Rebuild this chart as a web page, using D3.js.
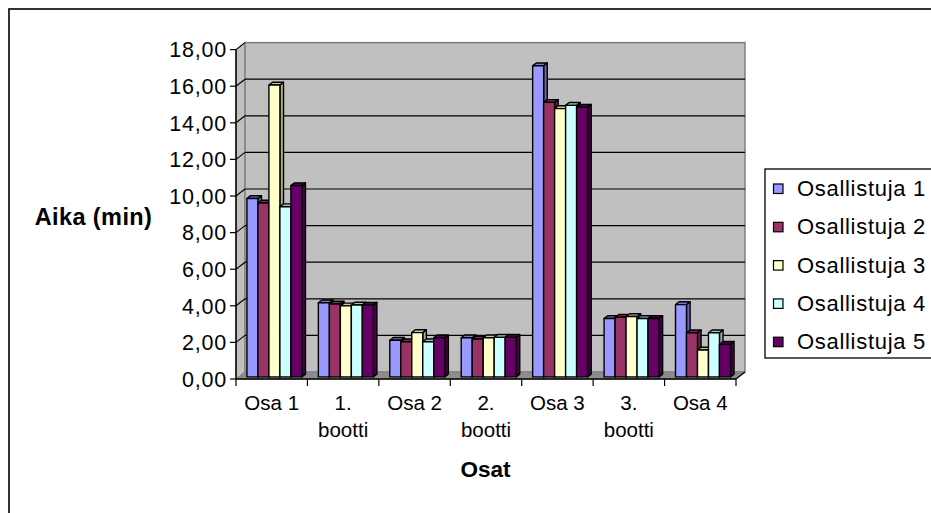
<!DOCTYPE html>
<html>
<head>
<meta charset="utf-8">
<script src="https://cdn.jsdelivr.net/npm/d3@7"></script>
<style>
  html, body { margin: 0; padding: 0; background: #fff; }
  svg { display: block; font-family: "Liberation Sans", Arial, sans-serif; }
</style>
</head>
<body>
<svg id="chart" width="931" height="513"></svg>
<script>
// Category labels (multi-line labels split on "\n")
const categories = ["Osa 1", "1.\nbootti", "Osa 2", "2.\nbootti", "Osa 3", "3.\nbootti", "Osa 4"];
const seriesNames = ["Osallistuja 1", "Osallistuja 2", "Osallistuja 3", "Osallistuja 4", "Osallistuja 5"];
const seriesColors = ["#9999FF", "#993366", "#FFFFCC", "#CCFFFF", "#660066"];

// Times in minutes, one array per participant
const osallistuja1 = [9.75, 4.05, 2.00, 2.14, 17.00, 3.19, 3.95];
const osallistuja2 = [9.50, 3.98, 1.92, 2.07, 15.00, 3.26, 2.41];
const osallistuja3 = [15.95, 3.88, 2.42, 2.14, 14.66, 3.30, 1.47];
const osallistuja4 = [9.30, 3.93, 1.92, 2.16, 14.84, 3.19, 2.41];
const osallistuja5 = [10.45, 3.92, 2.14, 2.16, 14.74, 3.19, 1.78];
const seriesValues = [osallistuja1, osallistuja2, osallistuja3, osallistuja4, osallistuja5];

const yTicks = [0, 2, 4, 6, 8, 10, 12, 14, 16, 18];
const yTitle = "Aika (min)";
const xTitle = "Osat";

const svg = d3.select("#chart");

// Outer chart frame
svg.append("rect")
  .attr("x", 9).attr("y", 9).attr("width", 940).attr("height", 520)
  .attr("fill", "#fff").attr("stroke", "#000").attr("stroke-width", 1.6);

// Plot geometry (oblique 3-D: back plane shifted by DX, DY)
const X0 = 236, X1 = 736;
const DX = 9, DY = -7;
const x = d3.scaleBand().domain(categories).range([X0, X1]).paddingInner(0).paddingOuter(0);
const xs = d3.scaleBand().domain(seriesNames).range([0, x.bandwidth()]).paddingInner(0).paddingOuter(0.75);
const y = d3.scaleLinear().domain([0, 18]).range([379, 49.6]);
const fmt = v => d3.format(".2f")(v).replace(".", ",");

const gray = "#C0C0C0";
const pts = a => a.map(p => p.join(",")).join(" ");

// Side (left) wall
svg.append("polygon")
  .attr("points", pts([[X0, y(0)], [X0, y(18)], [X0 + DX, y(18) + DY], [X0 + DX, y(0) + DY]]))
  .attr("fill", gray).attr("stroke", "#808080").attr("stroke-width", 1);

// Back wall
svg.append("rect")
  .attr("x", X0 + DX).attr("y", y(18) + DY)
  .attr("width", X1 - X0).attr("height", y(0) - y(18))
  .attr("fill", gray).attr("stroke", "#808080").attr("stroke-width", 1.5);

// Floor
svg.append("polygon")
  .attr("points", pts([[X0, y(0)], [X1, y(0)], [X1 + DX, y(0) + DY], [X0 + DX, y(0) + DY]]))
  .attr("fill", "#8C8C8C").attr("stroke", "#808080").attr("stroke-width", 1);

// Gridlines on back wall and side wall
const grid = svg.append("g");
yTicks.filter(v => v > 0).forEach(v => {
  const yy = y(v);
  grid.append("line")
    .attr("x1", X0 + DX).attr("x2", X1 + DX)
    .attr("y1", yy + DY).attr("y2", yy + DY)
    .attr("stroke", v === 18 ? "#808080" : "#000").attr("stroke-width", 1.2);
  grid.append("line")
    .attr("x1", X0).attr("y1", yy)
    .attr("x2", X0 + DX).attr("y2", yy + DY)
    .attr("stroke", "#000").attr("stroke-width", 1.2);
});

// Bars
const F0 = 0.3, FD = 0.4;
const bars = svg.append("g");
categories.forEach((cat, ci) => {
  seriesNames.forEach((s, si) => {
    const v = seriesValues[si][ci];
    const c = d3.color(seriesColors[si]);
    const bw = xs.bandwidth();
    const bx = x(cat) + xs(s) + F0 * DX;
    const yt = y(v) + F0 * DY;
    const yb = y(0) + F0 * DY;
    const ddx = FD * DX, ddy = FD * DY;
    const g = bars.append("g").attr("stroke", "#000").attr("stroke-width", 1.4).attr("stroke-linejoin", "round");
    g.append("polygon")
      .attr("points", pts([[bx + bw, yt], [bx + bw + ddx, yt + ddy], [bx + bw + ddx, yb + ddy], [bx + bw, yb]]))
      .attr("fill", c.darker(1.1));
    g.append("polygon")
      .attr("points", pts([[bx, yt], [bx + ddx, yt + ddy], [bx + bw + ddx, yt + ddy], [bx + bw, yt]]))
      .attr("fill", c.darker(0.7));
    g.append("rect")
      .attr("x", bx).attr("y", yt).attr("width", bw).attr("height", yb - yt)
      .attr("fill", c);
  });
});

// Value axis
const ax = svg.append("g");
ax.append("line").attr("x1", X0).attr("x2", X0).attr("y1", y(0)).attr("y2", y(18))
  .attr("stroke", "#000").attr("stroke-width", 1.5);
yTicks.forEach(v => {
  ax.append("line").attr("x1", X0 - 6).attr("x2", X0).attr("y1", y(v)).attr("y2", y(v))
    .attr("stroke", "#000").attr("stroke-width", 1.2);
  ax.append("text")
    .attr("x", X0 - 9).attr("y", y(v)).attr("dy", "0.36em")
    .attr("text-anchor", "end").attr("font-size", 21.5).attr("letter-spacing", 0.8).attr("fill", "#000")
    .text(fmt(v));
});

// Category axis
ax.append("line").attr("x1", X0).attr("x2", X1).attr("y1", y(0)).attr("y2", y(0))
  .attr("stroke", "#000").attr("stroke-width", 1.5);
ax.append("line").attr("x1", X1).attr("y1", y(0)).attr("x2", X1 + DX).attr("y2", y(0) + DY)
  .attr("stroke", "#000").attr("stroke-width", 1.2);
categories.concat([null]).forEach(cat => {
  const xx = cat === null ? X1 : x(cat);
  ax.append("line").attr("x1", xx).attr("x2", xx).attr("y1", y(0)).attr("y2", y(0) + 7)
    .attr("stroke", "#000").attr("stroke-width", 1.2);
});
categories.forEach(cat => {
  const t = ax.append("text")
    .attr("x", x(cat) + x.bandwidth() / 2).attr("y", 410)
    .attr("text-anchor", "middle").attr("font-size", 20.5).attr("fill", "#000");
  cat.split("\n").forEach((line, li) => {
    t.append("tspan").attr("x", x(cat) + x.bandwidth() / 2).attr("dy", li === 0 ? 0 : 27).text(line);
  });
});

// Axis titles
svg.append("text").attr("x", 93.5).attr("y", 224.5).attr("text-anchor", "middle")
  .attr("font-size", 23.5).attr("letter-spacing", 0.4).attr("font-weight", "bold").text(yTitle);
svg.append("text").attr("x", 485.5).attr("y", 477).attr("text-anchor", "middle")
  .attr("font-size", 22.5).attr("font-weight", "bold").text(xTitle);

// Legend
const lg = svg.append("g");
lg.append("rect").attr("x", 765).attr("y", 169).attr("width", 200).attr("height", 189)
  .attr("fill", "#fff").attr("stroke", "#000").attr("stroke-width", 1.3);
seriesNames.forEach((s, i) => {
  const by = 196 + i * 38.3;
  lg.append("rect").attr("x", 773.5).attr("y", by - 12).attr("width", 9.5).attr("height", 9.5)
    .attr("fill", seriesColors[i]).attr("stroke", "#000").attr("stroke-width", 1.2);
  lg.append("text").attr("x", 797).attr("y", by).attr("font-size", 22).attr("letter-spacing", 0.7)
    .attr("fill", "#000").text(s);
});
</script>
</body>
</html>
